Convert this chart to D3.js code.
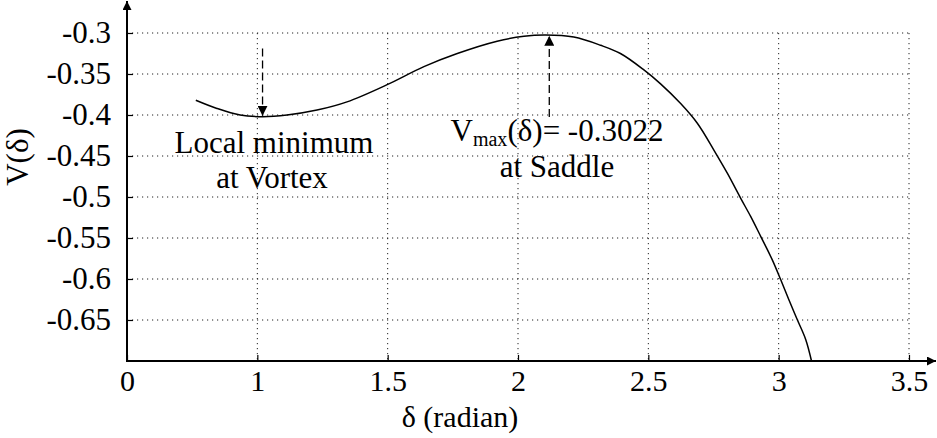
<!DOCTYPE html>
<html lang="en">
<head>
    <meta charset="UTF-8">
    <title>V(δ) curve</title>
    <script src="https://d3js.org/d3.v7.min.js"></script>
    <style>
        body { margin: 0; background: white; }
        svg { display: block; }
        svg text { font-family: "Liberation Serif", "Times New Roman", serif; }
        .grid line { stroke: #222; stroke-width: 1; stroke-dasharray: 1.2,3.8; }
    </style>
</head>
<body>
<script>
    // curve samples
    const delta = [0.764, 0.845, 0.934, 1.02, 1.114, 1.229, 1.344, 1.498, 1.639, 1.767, 1.92, 2.023, 2.106,
        2.214, 2.317, 2.393, 2.483, 2.547, 2.624, 2.688, 2.752, 2.803, 2.855, 2.893, 2.931, 2.976, 3.008,
        3.04, 3.072, 3.104, 3.126];
    const V = [-0.382, -0.392, -0.4, -0.402, -0.4, -0.394, -0.384, -0.363, -0.341, -0.325, -0.31, -0.304, -0.3025,
        -0.305, -0.315, -0.325, -0.345, -0.362, -0.386, -0.41, -0.443, -0.471, -0.502, -0.524, -0.548, -0.577,
        -0.601, -0.626, -0.65, -0.674, -0.7];

    // ticks (first x tick is labelled 0 in the original)
    const xTicks = [0.5, 1, 1.5, 2, 2.5, 3, 3.5];
    const xTickLabels = ["0", "1", "1.5", "2", "2.5", "3", "3.5"];
    const yTicks = [-0.3, -0.35, -0.4, -0.45, -0.5, -0.55, -0.6, -0.65];
    const yTickLabels = ["-0.3", "-0.35", "-0.4", "-0.45", "-0.5", "-0.55", "-0.6", "-0.65"];

    // annotation arrows: [delta, from V, to V]
    const vortexArrow = [1.02, -0.319, -0.401];
    const saddleArrow = [2.12, -0.4025, -0.3035];

    const W = 937, H = 438;
    const svg = d3.select("body").append("svg").attr("width", W).attr("height", H);

    const x = d3.scaleLinear().domain([0.5, 3.5]).range([127, 909]);
    const y = d3.scaleLinear().domain([-0.7, -0.3]).range([361, 33]);

    const defs = svg.append("defs");
    defs.append("marker").attr("id", "ah")
        .attr("viewBox", "0 0 10 10").attr("refX", 10).attr("refY", 5)
        .attr("markerWidth", 10).attr("markerHeight", 10)
        .attr("markerUnits", "userSpaceOnUse")
        .attr("orient", "auto")
        .append("path").attr("d", "M0,0 L10,5 L0,10 Z").attr("fill", "#000");
    defs.append("marker").attr("id", "axah")
        .attr("viewBox", "0 0 10 10").attr("refX", 10).attr("refY", 5)
        .attr("markerWidth", 10).attr("markerHeight", 9)
        .attr("markerUnits", "userSpaceOnUse")
        .attr("orient", "auto")
        .append("path").attr("d", "M0,0 L10,5 L0,10 Z").attr("fill", "#000");

    // grid
    const grid = svg.append("g").attr("class", "grid");
    grid.selectAll(".v").data(xTicks.slice(1)).enter().append("line")
        .attr("x1", d => x(d)).attr("x2", d => x(d))
        .attr("y1", y(-0.3)).attr("y2", y(-0.7));
    grid.selectAll(".h").data(yTicks).enter().append("line")
        .attr("x1", x(0.5)).attr("x2", x(3.5))
        .attr("y1", d => y(d)).attr("y2", d => y(d));

    // axes
    const xAxis = svg.append("g").attr("transform", `translate(0,${y(-0.7)})`)
        .call(d3.axisBottom(x).tickValues(xTicks).tickSize(-6).tickPadding(9)
            .tickFormat((d, i) => xTickLabels[i]));
    xAxis.attr("font-family", null).attr("font-size", null);
    xAxis.select(".domain").remove();
    xAxis.selectAll("text").style("font-size", "30px").attr("fill", "#000");
    xAxis.selectAll("line").attr("stroke-width", 1.2);

    const yAxis = svg.append("g").attr("transform", `translate(${x(0.5)},0)`)
        .call(d3.axisLeft(y).tickValues(yTicks).tickSize(-6).tickPadding(16)
            .tickFormat((d, i) => yTickLabels[i]));
    yAxis.attr("font-family", null).attr("font-size", null);
    yAxis.select(".domain").remove();
    yAxis.selectAll("text").style("font-size", "31px").attr("fill", "#000");
    yAxis.selectAll("line").attr("stroke-width", 1.2);

    svg.append("line")
        .attr("x1", x(0.5)).attr("x2", 936)
        .attr("y1", y(-0.7)).attr("y2", y(-0.7))
        .attr("stroke", "#000").attr("stroke-width", 2).attr("marker-end", "url(#axah)");
    svg.append("line")
        .attr("x1", x(0.5)).attr("x2", x(0.5))
        .attr("y1", y(-0.7) + 1).attr("y2", 1)
        .attr("stroke", "#000").attr("stroke-width", 2).attr("marker-end", "url(#axah)");

    // curve
    const pts = delta.map((d, i) => [d, V[i]]);
    svg.append("path").datum(pts)
        .attr("fill", "none").attr("stroke", "#000").attr("stroke-width", 1.5)
        .attr("d", d3.line().x(d => x(d[0])).y(d => y(d[1])).curve(d3.curveCatmullRom));

    // annotation arrows
    [vortexArrow, saddleArrow].forEach(a => {
        svg.append("line")
            .attr("x1", x(a[0])).attr("x2", x(a[0]))
            .attr("y1", y(a[1])).attr("y2", y(a[2]))
            .attr("stroke", "#000").attr("stroke-width", 1.3)
            .attr("stroke-dasharray", "8,4")
            .attr("marker-end", "url(#ah)");
    });

    // labels
    const txt = (tx, ty, s, size) => svg.append("text")
        .attr("x", tx).attr("y", ty).attr("text-anchor", "middle")
        .style("font-size", (size || 31) + "px").attr("fill", "#000").text(s);

    txt(274, 153, "Local minimum");
    txt(272, 188, "at Vortex");

    const vm = svg.append("text").attr("x", 557).attr("y", 141).attr("text-anchor", "middle")
        .style("font-size", "31px").attr("fill", "#000");
    vm.append("tspan").text("V");
    vm.append("tspan").attr("dy", 5).style("font-size", "20px").text("max");
    vm.append("tspan").attr("dy", -5).text("(δ)= -0.3022");
    txt(557, 177, "at Saddle");

    txt(460, 427, "δ (radian)", 30);
    svg.append("text")
        .attr("transform", "translate(28,157) rotate(-90)")
        .attr("text-anchor", "middle")
        .style("font-size", "31px").attr("fill", "#000")
        .text("V(δ)");
</script>
</body>
</html>
